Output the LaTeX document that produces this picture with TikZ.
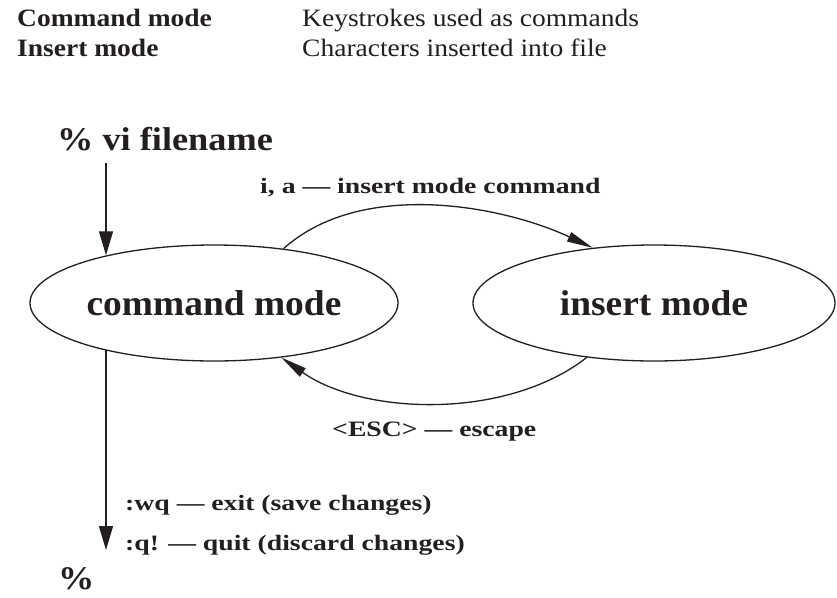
\documentclass[tikz,border=0pt]{standalone}
\usepackage{fontspec}
\setmainfont{Liberation Serif}
\newfontfamily\fsmall[FakeStretch=1.26]{Liberation Serif}
\newfontfamily\fleg[FakeStretch=1.10]{Liberation Serif}
\newfontfamily\fbig[FakeStretch=1.10]{Liberation Serif}
\newfontfamily\fstate[FakeStretch=1.04]{Liberation Serif}
\usetikzlibrary{arrows.meta,shapes.geometric}
\definecolor{ink}{HTML}{231F20}
\tikzset{
  lbl/.style={inner sep=0pt, anchor=base west, text=ink, font=\fsmall\fontsize{22}{26}\selectfont\bfseries},
  leg/.style={inner sep=0pt, anchor=base west, text=ink, font=\fleg\fontsize{25}{29}\selectfont\bfseries},
  legr/.style={inner sep=0pt, anchor=base west, text=ink, font=\fleg\fontsize{25}{29}\selectfont},
  big/.style={inner sep=0pt, anchor=base west, text=ink, font=\fbig\fontsize{33}{38}\selectfont\bfseries},
  state/.style={ellipse, draw=ink, line width=1.3pt, inner sep=0pt, minimum height=116pt, text=ink, font=\fstate\fontsize{36}{42}\selectfont\bfseries},
  varr/.style={draw=ink, line width=1.3pt, -{Triangle[length=24pt,width=14pt]}},
  arc/.style={draw=ink, line width=1.3pt, -{Triangle[length=26pt,width=10pt]}}
}
\begin{document}
\begin{tikzpicture}[x=1pt,y=1pt]
\useasboundingbox (0,0) rectangle (837,-597);
% legend
\node[leg] (l1) at (17,-27) {Command mode};
\node[leg] (l2) at (17,-56) {Insert mode};
\node[legr] (d1) at (302,-27) {Keystrokes used as commands};
\node[legr] (d2) at (302,-56) {Characters inserted into file};
% states
\node[state, minimum width=368pt] (cmd) at (214,-303) {command mode};
\node[state, minimum width=362pt] (ins) at (654,-303) {insert mode};
% start
\node[big] (vi) at (57,-150) {\% vi filename};
\coordinate (a1) at (106,-163);
\draw[varr] (a1) -- (a1 |- cmd.156.5);
% arcs
\draw[arc] (cmd.38) to[out=42,in=155,looseness=0.85] (ins.138);
\draw[arc] (ins.219) to[out=218,in=-35,looseness=0.85] (cmd.321);
\node[lbl] (ia) at (260,-193) {i, a — insert mode command};
\node[lbl] (esc) at (332,-436) {<ESC> — escape};
% exit
\coordinate (b2) at (106,-550);
\draw[varr] (b2 |- cmd.203.5) -- (b2);
\node[lbl] (wq) at (125,-510) {:wq — exit (save changes)};
\node[lbl] (q) at (125,-550) {:q! — quit (discard changes)};
\node[big] (pct) at (58,-589) {\%};
\end{tikzpicture}
\end{document}
